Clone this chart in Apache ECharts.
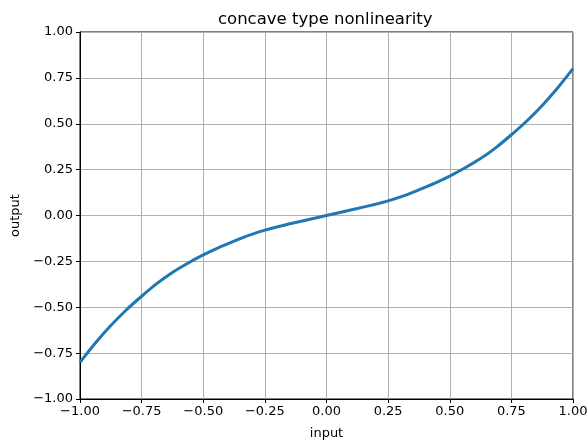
<!DOCTYPE html>
<html>
<head>
<meta charset="utf-8">
<script src="https://cdn.jsdelivr.net/npm/echarts@6/dist/echarts.min.js"></script>
<style>
html,body{margin:0;padding:0;background:#fff;}
#chart{width:587px;height:442px;}
</style>
</head>
<body>
<div id="chart"></div>
<script>
const xValues = [-1, -0.9375, -0.875, -0.8125, -0.75, -0.6875, -0.625, -0.5625, -0.5, -0.4375, -0.375, -0.3125, -0.25, -0.1875, -0.125, -0.0625, 0,
                 0.0625, 0.125, 0.1875, 0.25, 0.3125, 0.375, 0.4375, 0.5, 0.5625, 0.625, 0.6875, 0.75, 0.8125, 0.875, 0.9375, 1];
const yValues = [-0.80, -0.695, -0.60, -0.515, -0.44, -0.37, -0.31, -0.26, -0.215, -0.175, -0.14, -0.107, -0.08, -0.058, -0.038, -0.019, 0,
                 0.019, 0.038, 0.058, 0.08, 0.107, 0.14, 0.175, 0.215, 0.26, 0.31, 0.37, 0.44, 0.515, 0.60, 0.695, 0.80];
const xTicks = [-1, -0.75, -0.5, -0.25, 0, 0.25, 0.5, 0.75, 1];
const yTicks = [-1, -0.75, -0.5, -0.25, 0, 0.25, 0.5, 0.75, 1];
const titleText = 'concave type nonlinearity';
const xName = 'input';
const yName = 'output';

const font = 'DejaVu Sans';
const fmt = v => v.toFixed(2).replace('-', '\u2212');
const chart = echarts.init(document.getElementById('chart'), null, {renderer: 'canvas'});
chart.setOption({
  animation: false,
  backgroundColor: '#fff',
  title: {
    text: titleText, left: 213, top: 6,
    textStyle: {fontFamily: font, fontSize: 16.5, fontWeight: 'normal', color: '#000'}
  },
  grid: {left: 80, right: 14, top: 32, bottom: 43, show: true, borderColor: '#000', borderWidth: 1, backgroundColor: 'transparent', outerBoundsMode: 'none', containLabel: false},
  xAxis: {
    type: 'value', min: xTicks[0], max: xTicks[xTicks.length - 1], interval: 0.25,
    name: xName, nameLocation: 'middle', nameGap: 28,
    nameTextStyle: {fontFamily: font, fontSize: 13, color: '#000'},
    axisLine: {show: true, onZero: false, lineStyle: {color: '#000', width: 1}},
    axisTick: {show: true, length: 4, lineStyle: {color: '#000'}},
    axisLabel: {fontFamily: font, fontSize: 13, color: '#000', margin: 6, formatter: fmt},
    splitLine: {show: true, lineStyle: {color: '#b0b0b0', width: 1}}
  },
  yAxis: {
    type: 'value', min: yTicks[0], max: yTicks[yTicks.length - 1], interval: 0.25,
    name: yName, nameLocation: 'middle', nameGap: 58, nameRotate: 90,
    nameTextStyle: {fontFamily: font, fontSize: 13, color: '#000'},
    axisLine: {show: true, onZero: false, lineStyle: {color: '#000', width: 1}},
    axisTick: {show: true, length: 4, lineStyle: {color: '#000'}},
    axisLabel: {fontFamily: font, fontSize: 13, color: '#000', margin: 7, formatter: fmt},
    splitLine: {show: true, lineStyle: {color: '#b0b0b0', width: 1}}
  },
  series: [{
    type: 'line', smooth: 0.3, showSymbol: false,
    data: xValues.map((x, i) => [x, yValues[i]]),
    lineStyle: {color: '#1f77b4', width: 3},
    itemStyle: {color: '#1f77b4'},
    clip: true
  }]
});
</script>
</body>
</html>
